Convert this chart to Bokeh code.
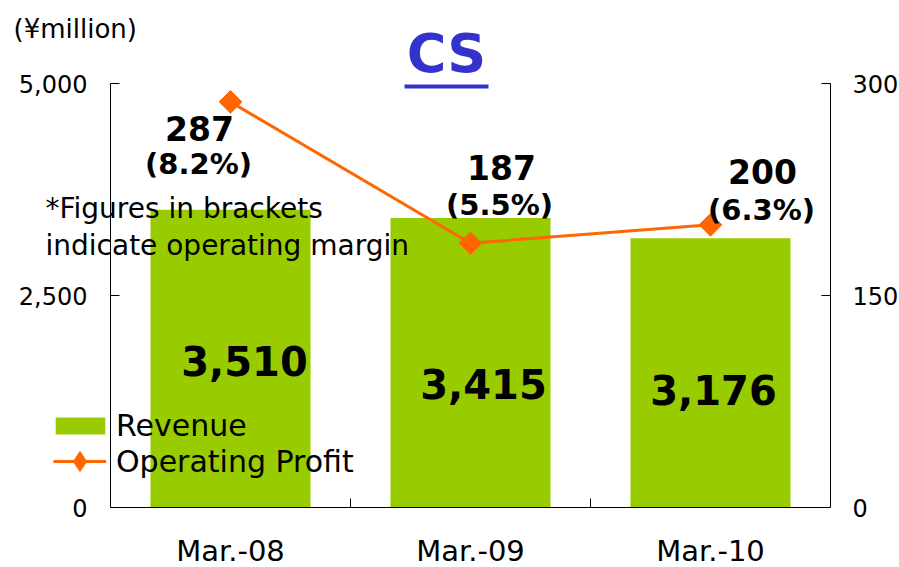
import numpy as np
from bokeh.plotting import figure
from bokeh.models import (ColumnDataSource, Range1d, LinearAxis, FixedTicker,
                          NumeralTickFormatter, Legend, LegendItem, Label,
                          BoxAnnotation)
from bokeh.core.properties import value
from bokeh.embed import file_html
from bokeh.resources import INLINE

# ---- data ----
categories = ["Mar.-08", "Mar.-09", "Mar.-10"]
revenue = [3510, 3415, 3176]
op_profit = [287, 187, 200]
left_ticks = [0, 2500, 5000]
right_ticks = [0, 150, 300]
left_max = 5000
right_max = 300

# ---- styles / layout (pixels) ----
GREEN = "#99CC00"
ORANGE = "#FF6600"
BLUE = "#3333CC"
FONT = "DejaVu Sans"
W, H = 899, 567
PL, PR, PT, PB = 110, 830, 83, 507   # plot area edges in canvas pixels

n = len(categories)
xpx = (PR - PL) / n
ypx = (PB - PT) / left_max
rpx = (PB - PT) / right_max
x_range = Range1d(-PL / xpx, n + (W - PR) / xpx)
y_range = Range1d(-(H - PB) / ypx, left_max + PT / ypx)
r_range = Range1d(-(H - PB) / rpx, right_max + PT / rpx)

xs = [i + 0.5 for i in range(n)]
margin_txt = ["(%.1f%%)" % (p / r * 100) for p, r in zip(op_profit, revenue)]
rev_txt = ["{:,}".format(v) for v in revenue]
prof_txt = [str(v) for v in op_profit]

src = ColumnDataSource(dict(
    x=xs, cat=categories, rev=revenue, prof=op_profit,
    rev_txt=rev_txt, prof_txt=prof_txt, margin_txt=margin_txt,
    # label offsets (screen px)
    rdx=[14, 13, 3], rdy=[151, 166, 152],
    pdx=[-31, 31, 52], pdy=[27, -76, -53],
    mdx=[-32, 29, 51], mdy=[62, -38, -15],
))

p = figure(width=W, height=H, x_range=x_range, y_range=y_range,
           x_axis_location=None, y_axis_location=None,
           output_backend="svg", toolbar_location=None,
           min_border=0, min_border_left=0, min_border_right=0,
           min_border_top=0, min_border_bottom=0)
p.outline_line_color = None
p.xgrid.visible = False
p.ygrid.visible = False
p.background_fill_color = "white"
p.border_fill_color = "white"
p.extra_y_ranges = {"right": r_range}

# axes (fixed in place so that the frame covers the whole canvas)
lyax = LinearAxis(ticker=FixedTicker(ticks=left_ticks, minor_ticks=[]),
                  fixed_location=0, bounds=(0, left_max))
ryax = LinearAxis(y_range_name="right", ticker=FixedTicker(ticks=right_ticks, minor_ticks=[]),
                  fixed_location=n, bounds=(0, right_max))
p.add_layout(lyax, "left")
p.add_layout(ryax, "right")
for ax in [lyax, ryax]:
    ax.formatter = NumeralTickFormatter(format="0,0")
    ax.major_tick_in = 9
    ax.major_tick_out = 0
    ax.minor_tick_in = 0
    ax.minor_tick_out = 0
    ax.axis_line_color = "black"
    ax.major_tick_line_color = "black"
    ax.major_label_text_font = FONT
    ax.major_label_text_font_size = "24px"
    ax.major_label_text_color = "black"
lyax.major_label_standoff = 23
ryax.major_label_standoff = 22

xax = LinearAxis(ticker=FixedTicker(ticks=xs, minor_ticks=list(range(1, n))),
                 fixed_location=0, bounds=(0, n))
xax.major_label_overrides = {x: c for x, c in zip(xs, categories)}
xax.major_tick_in = 0
xax.major_tick_out = 0
xax.minor_tick_in = 9
xax.minor_tick_out = 0
xax.minor_tick_line_color = "black"
xax.axis_line_color = "black"
xax.major_label_standoff = 26
xax.major_label_text_font = FONT
xax.major_label_text_font_size = "29px"
xax.major_label_text_color = "black"
p.add_layout(xax, "below")

# bars
bars = p.vbar(x="x", top="rev", width=0.667, source=src,
              fill_color=GREEN, line_color=None)

# line
line = p.line(x="x", y="prof", source=src, y_range_name="right",
              line_color=ORANGE, line_width=3)
# diamond used for the legend key (hidden under the rotated squares in the plot)
key = p.scatter(x="x", y="prof", source=src, y_range_name="right",
                marker="diamond", size=18, fill_color=ORANGE, line_color=ORANGE)
marks = p.scatter(x="x", y="prof", source=src, y_range_name="right",
                  marker="square", angle=np.pi / 4, size=16,
                  fill_color=ORANGE, line_color=ORANGE)

# bar value labels
p.text(x="x", y="rev", text="rev_txt", source=src, x_offset="rdx", y_offset="rdy",
       text_align="center", text_baseline="middle", text_color="black",
       text_font=value(FONT), text_font_style="bold", text_font_size="40px")
# profit labels
p.text(x="x", y="prof", text="prof_txt", source=src, y_range_name="right",
       x_offset="pdx", y_offset="pdy",
       text_align="center", text_baseline="middle", text_color="black",
       text_font=value(FONT), text_font_style="bold", text_font_size="33px")
p.text(x="x", y="prof", text="margin_txt", source=src, y_range_name="right",
       x_offset="mdx", y_offset="mdy",
       text_align="center", text_baseline="middle", text_color="black",
       text_font=value(FONT), text_font_style="bold", text_font_size="29px")

# title and unit (screen units: x from left, y from bottom of canvas)
p.add_layout(Label(x=446, y=H - 53, x_units="screen", y_units="screen", text="CS",
                   text_align="center", text_baseline="alphabetic", text_color=BLUE,
                   text_font=FONT, text_font_style="bold", text_font_size="54px"))
p.add_layout(BoxAnnotation(left=404, right=488, top=H - 84, bottom=H - 88,
                           left_units="screen", right_units="screen",
                           top_units="screen", bottom_units="screen",
                           fill_color=BLUE, fill_alpha=1, line_color=None))
p.add_layout(Label(x=13, y=H - 28, x_units="screen", y_units="screen", text="(¥million)",
                   text_align="left", text_baseline="middle", text_color="black",
                   text_font=FONT, text_font_size="26px"))

# note
for yy, t in [(208, "*Figures in brackets"), (245, "indicate operating margin")]:
    p.add_layout(Label(x=45, y=H - yy, x_units="screen", y_units="screen", text=t,
                       text_align="left", text_baseline="middle", text_color="black",
                       text_font=FONT, text_font_size="28px"))

# legends
leg1 = Legend(items=[LegendItem(label="Revenue", renderers=[bars])],
              location=(49, H - 443), padding=0, margin=0, spacing=0,
              glyph_width=62, glyph_height=21, label_standoff=5,
              border_line_color=None, background_fill_alpha=0,
              label_text_font=FONT, label_text_font_size="30px",
              label_text_color="black")
leg2 = Legend(items=[LegendItem(label="Operating Profit", renderers=[line, key])],
              location=(53, H - 486), padding=0, margin=0, spacing=0,
              glyph_width=53, glyph_height=50, label_standoff=10,
              border_line_color=None, background_fill_alpha=0,
              label_text_font=FONT, label_text_font_size="30px",
              label_text_color="black")
p.add_layout(leg1)
p.add_layout(leg2)

open("out.html", "w").write(file_html(p, INLINE))
